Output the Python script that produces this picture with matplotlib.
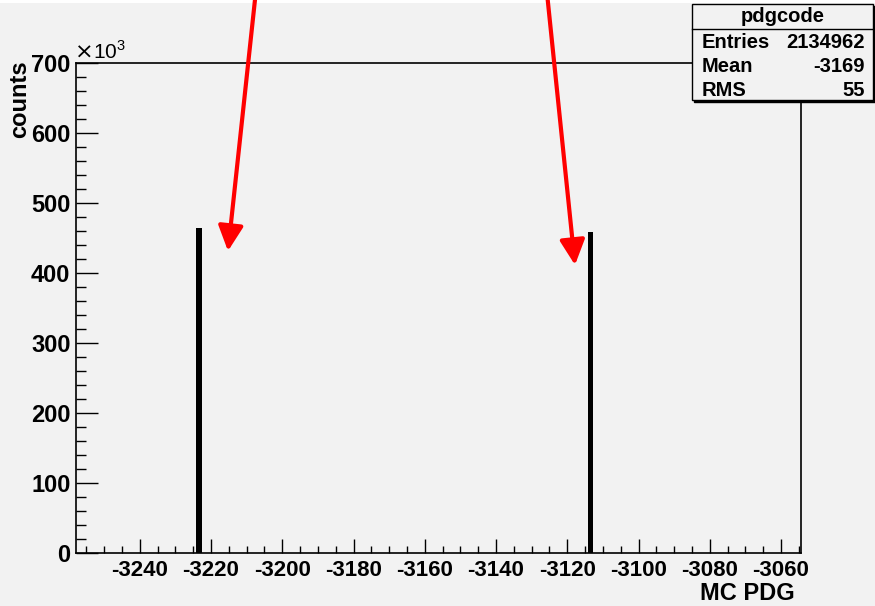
import matplotlib
matplotlib.use('Agg')
import matplotlib.pyplot as plt
from matplotlib.patches import Rectangle
from matplotlib.ticker import MultipleLocator, FuncFormatter

plt.rcParams['font.family'] = ['Liberation Sans', 'DejaVu Sans']
plt.rcParams['axes.unicode_minus'] = False
plt.rcParams['mathtext.fontset'] = 'custom'
plt.rcParams['mathtext.rm'] = 'Liberation Sans'

# Daten
pdg_codes = [-3223.4, -3113.5]
counts = [465000, 459000]
bin_width = 1.5
x_range = (-3257.9, -3054.4)
y_range = (0, 700000)

stat_title = 'pdgcode'
stat_names = ['Entries', 'Mean', 'RMS']
stat_values = ['2134962', '-3169', '55']

W, H = 875, 606
bg = '#f2f2f2'
fs = 17
fig = plt.figure(figsize=(W / 100, H / 100), dpi=100, facecolor=bg)
ax = fig.add_axes([76 / W, 1 - 553 / H, (801 - 76) / W, (553 - 63) / H])
ax.set_facecolor(bg)

ax.bar(pdg_codes, counts, width=bin_width, color='black', zorder=2)
ax.set_xlim(*x_range)
ax.set_ylim(*y_range)

ax.xaxis.set_major_locator(MultipleLocator(20))
ax.xaxis.set_minor_locator(MultipleLocator(5))
ax.yaxis.set_major_locator(MultipleLocator(100000))
ax.yaxis.set_minor_locator(MultipleLocator(20000))
ax.yaxis.set_major_formatter(FuncFormatter(lambda v, p: '%d' % round(v / 1000)))
ax.xaxis.set_major_formatter(FuncFormatter(lambda v, p: '%d' % round(v)))

ax.tick_params(axis='both', which='both', direction='in', top=False, right=False,
               width=1, color='black')
ax.tick_params(axis='y', which='major', length=16, pad=4, labelsize=fs)
ax.tick_params(axis='y', which='minor', length=7)
ax.tick_params(axis='x', which='major', length=10, pad=5, labelsize=16)
ax.tick_params(axis='x', which='minor', length=5)
for lab in ax.get_xticklabels() + ax.get_yticklabels():
    lab.set_fontweight('bold')
for sp in ax.spines.values():
    sp.set_linewidth(1.2)
    sp.set_color('black')

# Achsenbeschriftungen (ROOT-Stil)
fig.text(20 / W, 1 - 60 / H, 'counts', rotation=90, ha='center', va='top',
         fontsize=fs, fontweight='bold')
fig.text(795 / W, 1 - 593 / H, 'MC PDG', ha='right', va='center',
         fontsize=fs, fontweight='bold')
fig.text(75 / W, 1 - 59 / H, '×', ha='left', va='baseline', fontsize=16,
         family='DejaVu Sans')
fig.text(93 / W, 1 - 59 / H, r'10$^{\mathrm{3}}$', ha='left', va='baseline',
         fontsize=15)

# Statistik-Box
bx0, bx1 = 692 / W, 873 / W
by0, by1 = 1 - 100 / H, 1 - 4 / H
fig.add_artist(Rectangle((bx0 + 2 / W, by0 - 2 / H), bx1 - bx0, by1 - by0,
                         transform=fig.transFigure, facecolor='black',
                         edgecolor='black', lw=1, zorder=5))
fig.add_artist(Rectangle((bx0, by0), bx1 - bx0, by1 - by0, transform=fig.transFigure,
                         facecolor=bg, edgecolor='black', lw=1, zorder=6))
fig.add_artist(plt.Line2D([bx0, bx1], [1 - 29 / H, 1 - 29 / H],
                          transform=fig.transFigure, color='black', lw=1, zorder=7))
fig.text((bx0 + bx1) / 2, 1 - 16 / H, stat_title, ha='center', va='center',
         fontsize=14.5, fontweight='bold', zorder=8)
for i, (n, v) in enumerate(zip(stat_names, stat_values)):
    yy = 1 - (42 + 24 * i) / H
    fig.text(bx0 + 10 / W, yy, n, ha='left', va='center', fontsize=14.5,
             fontweight='bold', zorder=8)
    fig.text(bx1 - 8 / W, yy, v, ha='right', va='center', fontsize=14.5,
             fontweight='bold', zorder=8)

# weißer Streifen oben
fig.add_artist(Rectangle((0, 1 - 3 / H), 1, 3 / H, transform=fig.transFigure,
                         facecolor='white', edgecolor='none', zorder=0))

# rote Pfeile
arrows = [((255.5, H + 5), (228, H - 251)), ((547.2, H + 5), (575, H - 265))]
for tail, tip in arrows:
    ax.annotate('', xy=tip, xycoords='figure pixels', xytext=tail,
                textcoords='figure pixels', annotation_clip=False,
                arrowprops=dict(arrowstyle='-|>,head_length=0.4,head_width=0.2',
                                color='red', lw=3, mutation_scale=38,
                                shrinkA=0, shrinkB=0), zorder=10)

fig.savefig('out.png', dpi=100, facecolor=fig.get_facecolor())
